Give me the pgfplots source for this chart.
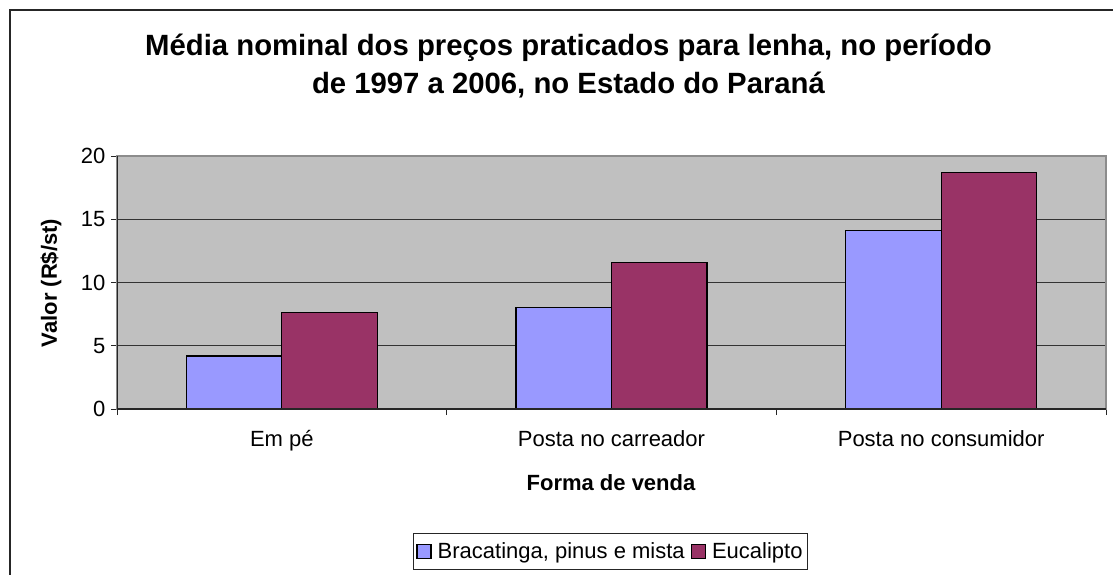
\documentclass[border=0pt]{standalone}
\usepackage{pgfplots}
\pgfplotsset{compat=1.18}
\usepackage{fontspec}
\setmainfont{Liberation Sans}
\definecolor{cblue}{RGB}{153,153,255}
\definecolor{cred}{RGB}{153,51,102}
\definecolor{cplot}{RGB}{192,192,192}
\begin{document}
\begin{tikzpicture}
\useasboundingbox (0pt,0pt) rectangle (1113pt,574pt);
\draw[line width=1.5pt, black!85] (10pt,-2pt) -- (10pt,564pt) -- (1116pt,564pt);
\node[font=\fontsize{29.3}{37.5}\bfseries\selectfont, align=center] at (568.5pt,508pt) {Média nominal dos preços praticados para lenha, no período\\de 1997 a 2006, no Estado do Paraná};
\node[font=\fontsize{22}{26}\bfseries\selectfont, rotate=90] at (51pt,291pt) {Valor (R\$/st)};
\node[font=\fontsize{22}{26}\bfseries\selectfont] at (611pt,91pt) {Forma de venda};
\begin{axis}[at={(117pt,165pt)}, anchor=south west, scale only axis,
  width=989pt, height=253pt,
  xmin=-0.5, xmax=2.5, ymin=0, ymax=20,
  ybar=0pt, bar width=95.5pt,
  axis background/.style={fill=cplot},
  axis line style={draw=black!45, line width=1.2pt},
  ytick={0,5,10,15,20},
  ymajorgrids, grid style={black!80, line width=1pt},
  y tick label style={font=\fontsize{22}{26}\selectfont, xshift=-2pt},
  /pgf/number format/assume math mode=true,
  xtick={0,1,2}, xticklabels={Em pé, Posta no carreador, Posta no consumidor},
  x tick label style={font=\fontsize{22}{26}\selectfont, yshift=-12pt},
  minor xtick={-0.5,0.5,1.5,2.5},
  tick align=outside, tick pos=left,
  major tick length=6pt, minor tick length=6pt,
  xtick style={draw=none},
  minor x tick style={draw=black!85, line width=1pt},
  ytick style={draw=black!85, line width=1pt},
  legend columns=2,
  legend style={at={(0.499,-0.563)}, anchor=center, draw=black!85, line width=1pt,
    font=\fontsize{22}{26}\selectfont, inner xsep=3pt, inner ysep=7pt,
    /tikz/every even column/.append style={column sep=4pt}},
  legend image code/.code={\draw[#1, draw=black, line width=1.2pt] (0pt,-7pt) rectangle (14pt,7pt); \path (18pt,0pt);},
]
\addplot[fill=cblue, draw=black, line width=1.3pt] coordinates {(0,4.2) (1,8.0) (2,14.1)};
\addplot[fill=cred, draw=black, line width=1.3pt] coordinates {(0,7.65) (1,11.6) (2,18.7)};
\legend{{Bracatinga, pinus e mista}, Eucalipto}
\draw[black!85, line width=1.2pt] (axis cs:-0.5,0) -- (axis cs:2.5,0);
\draw[black!85, line width=1.2pt] (axis cs:-0.5,0) -- (axis cs:-0.5,20);
\end{axis}
\end{tikzpicture}
\end{document}
